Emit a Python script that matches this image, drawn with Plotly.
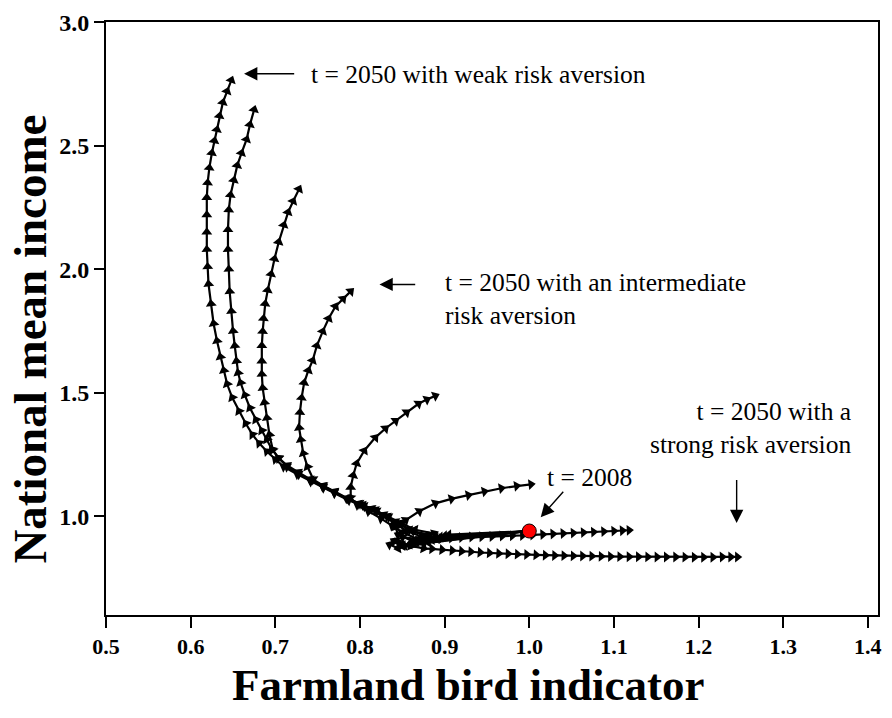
import plotly.graph_objects as go

# Trajectories of (farmland bird indicator, national mean income), 2008 -> 2050,
# one per level of risk aversion (weak -> strong).
traj1_x = [1.0, 0.905, 0.872, 0.888, 0.865, 0.85, 0.834, 0.82, 0.805, 0.787, 0.77, 0.757, 0.742,
           0.726, 0.71, 0.7, 0.69, 0.681, 0.673, 0.665, 0.657, 0.649, 0.643, 0.639, 0.635, 0.631,
           0.627, 0.624, 0.621, 0.62, 0.619, 0.619, 0.619, 0.619, 0.62, 0.622, 0.625, 0.628,
           0.631, 0.634, 0.638, 0.643, 0.648]
traj1_y = [0.94, 0.925, 0.905, 0.93, 0.945, 0.97, 0.996, 1.02, 1.04, 1.064, 1.093, 1.115, 1.14,
           1.17, 1.2, 1.23, 1.262, 1.295, 1.33, 1.375, 1.425, 1.48, 1.535, 1.59, 1.645, 1.71,
           1.78, 1.86, 1.94, 2.01, 2.08, 2.15, 2.22, 2.29, 2.35, 2.41, 2.47, 2.52, 2.565, 2.62,
           2.675, 2.72, 2.765]

traj2_x = [1.0, 0.9, 0.868, 0.882, 0.862, 0.846, 0.832, 0.818, 0.803, 0.786, 0.77, 0.756, 0.742,
           0.728, 0.714, 0.704, 0.696, 0.69, 0.684, 0.677, 0.67, 0.664, 0.659, 0.656, 0.654,
           0.652, 0.65, 0.648, 0.646, 0.645, 0.644, 0.644, 0.645, 0.647, 0.651, 0.655, 0.66,
           0.666, 0.67, 0.675]
traj2_y = [0.94, 0.92, 0.9, 0.925, 0.94, 0.972, 1.0, 1.025, 1.045, 1.07, 1.095, 1.12, 1.145,
           1.17, 1.2, 1.235, 1.27, 1.31, 1.346, 1.39, 1.438, 1.49, 1.54, 1.58, 1.628, 1.69,
           1.75, 1.83, 1.91, 2.0, 2.08, 2.16, 2.24, 2.3, 2.36, 2.42, 2.47, 2.525, 2.585, 2.646]

traj3_x = [1.0, 0.895, 0.866, 0.878, 0.858, 0.842, 0.828, 0.814, 0.8, 0.785, 0.77, 0.756, 0.741,
           0.727, 0.714, 0.704, 0.697, 0.693, 0.69, 0.687, 0.685, 0.684, 0.684, 0.684, 0.685,
           0.686, 0.688, 0.691, 0.695, 0.699, 0.704, 0.71, 0.715, 0.721, 0.728]
traj3_y = [0.94, 0.915, 0.895, 0.92, 0.945, 0.978, 1.005, 1.03, 1.05, 1.073, 1.1, 1.123, 1.15,
           1.178, 1.205, 1.235, 1.268, 1.33, 1.398, 1.46, 1.519, 1.575, 1.628, 1.69, 1.748,
           1.8, 1.86, 1.915, 1.98, 2.042, 2.11, 2.179, 2.23, 2.275, 2.324]

traj4_x = [1.0, 0.89, 0.862, 0.875, 0.855, 0.84, 0.826, 0.812, 0.798, 0.784, 0.77, 0.757, 0.745,
           0.738, 0.733, 0.73, 0.728, 0.729, 0.731, 0.734, 0.739, 0.744, 0.749, 0.756, 0.763,
           0.771, 0.78, 0.789, 0.798]
traj4_y = [0.94, 0.91, 0.89, 0.915, 0.94, 0.975, 1.002, 1.028, 1.05, 1.072, 1.098, 1.122, 1.148,
           1.2, 1.254, 1.31, 1.358, 1.42, 1.479, 1.54, 1.59, 1.63, 1.69, 1.748, 1.8, 1.849,
           1.88, 1.91]

traj5_x = [1.0, 0.885, 0.858, 0.87, 0.85, 0.838, 0.825, 0.81, 0.797, 0.789, 0.789, 0.792,
           0.796, 0.805, 0.818, 0.83, 0.842, 0.855, 0.869, 0.879, 0.889]
traj5_y = [0.94, 0.905, 0.885, 0.905, 0.935, 0.962, 0.99, 1.02, 1.045, 1.075, 1.117, 1.165,
           1.213, 1.265, 1.318, 1.355, 1.386, 1.42, 1.455, 1.472, 1.487]

traj6_x = [1.0, 0.88, 0.852, 0.862, 0.845, 0.842, 0.854, 0.87, 0.889, 0.908, 0.928, 0.947,
           0.967, 0.985, 1.002]
traj6_y = [0.94, 0.9, 0.88, 0.9, 0.925, 0.955, 0.984, 1.02, 1.052, 1.07, 1.085, 1.1, 1.113,
           1.122, 1.129]

traj7_x = [1.0, 0.88, 0.85, 0.84, 0.85, 0.872, 0.884, 0.896, 0.908, 0.92, 0.932, 0.944, 0.956,
           0.968, 0.98, 0.992, 1.004, 1.016, 1.028, 1.04, 1.052, 1.064, 1.076, 1.088, 1.1,
           1.11, 1.118]
traj7_y = [0.94, 0.895, 0.88, 0.9, 0.915, 0.905, 0.908, 0.91, 0.912, 0.914, 0.916, 0.917, 0.918,
           0.92, 0.921, 0.922, 0.924, 0.926, 0.928, 0.93, 0.932, 0.934, 0.936, 0.938, 0.94,
           0.942, 0.943]

traj8_x = [1.0, 0.875, 0.845, 0.835, 0.845, 0.86, 0.875, 0.885, 0.897, 0.909, 0.92, 0.931,
           0.942, 0.953, 0.964, 0.975, 0.986, 0.997, 1.008, 1.019, 1.03, 1.041, 1.052, 1.063,
           1.074, 1.085, 1.096, 1.107, 1.118, 1.129, 1.14, 1.151, 1.162, 1.173, 1.184, 1.195,
           1.206, 1.217, 1.228, 1.238, 1.246]
traj8_y = [0.94, 0.89, 0.87, 0.885, 0.895, 0.88, 0.87, 0.868, 0.864, 0.861, 0.858, 0.856,
           0.853, 0.851, 0.849, 0.848, 0.846, 0.845, 0.843, 0.842, 0.841, 0.84, 0.839, 0.839,
           0.838, 0.837, 0.837, 0.836, 0.836, 0.836, 0.835, 0.835, 0.835, 0.835, 0.834, 0.834,
           0.834, 0.834, 0.835, 0.835, 0.835]

trajectories = [
    (traj1_x, traj1_y), (traj2_x, traj2_y), (traj3_x, traj3_y), (traj4_x, traj4_y),
    (traj5_x, traj5_y), (traj6_x, traj6_y), (traj7_x, traj7_y), (traj8_x, traj8_y),
]

start_x = [1.0]
start_y = [0.94]

x_ticks = [0.5, 0.6, 0.7, 0.8, 0.9, 1.0, 1.1, 1.2, 1.3, 1.4]
y_ticks = [1.0, 1.5, 2.0, 2.5, 3.0]

SERIF = "Liberation Serif"

fig = go.Figure()

for tx, ty in trajectories:
    fig.add_trace(go.Scatter(
        x=tx, y=ty, mode="lines+markers",
        line=dict(color="black", width=2.2),
        marker=dict(symbol="triangle-up", angleref="previous", size=9.5, color="black",
                    line=dict(width=0)),
        showlegend=False, hoverinfo="skip",
    ))

fig.add_trace(go.Scatter(
    x=start_x, y=start_y, mode="markers",
    marker=dict(symbol="circle", size=14, color="#ff0000", line=dict(color="black", width=1)),
    showlegend=False,
))

text_font = dict(family=SERIF, size=25.5, color="black")
arrow_style = dict(axref="x", ayref="y", text="", showarrow=True, arrowhead=2,
                   arrowsize=1.9, arrowwidth=1.4, arrowcolor="black")

annotations = [
    # text labels
    dict(x=0.740, y=2.787, text="t = 2050 with weak risk aversion", xanchor="left",
         yanchor="middle", showarrow=False, font=text_font),
    dict(x=0.898, y=1.881, text="t = 2050 with an intermediate<br>risk aversion",
         xanchor="left", yanchor="middle", align="left", showarrow=False, font=text_font),
    dict(x=1.019, y=1.155, text="t = 2008", xanchor="left", yanchor="middle",
         showarrow=False, font=text_font),
    dict(x=1.382, y=1.358, text="t = 2050 with a<br>strong risk aversion", xanchor="right",
         yanchor="middle", align="right", showarrow=False, font=text_font),
    # pointer arrows
    dict(x=0.663, y=2.791, ax=0.724, ay=2.791, **arrow_style),
    dict(x=0.823, y=1.938, ax=0.867, ay=1.938, **arrow_style),
    dict(x=1.0135, y=0.996, ax=1.0417, ay=1.105, **arrow_style),
    dict(x=1.245, y=0.972, ax=1.245, ay=1.153, **arrow_style),
    # axis titles
    dict(x=0.47, xref="paper", y=-0.118, yref="paper", text="<b>Farmland bird indicator</b>",
         showarrow=False, xanchor="center", yanchor="middle",
         font=dict(family=SERIF, size=45, color="black")),
    dict(x=-0.098, xref="paper", y=0.465, yref="paper", text="<b>National mean income</b>",
         showarrow=False, textangle=-90, xanchor="center", yanchor="middle",
         font=dict(family=SERIF, size=47, color="black")),
]

fig.update_layout(
    width=892, height=718,
    margin=dict(l=106, r=10, t=19, b=103),
    paper_bgcolor="white", plot_bgcolor="white",
    annotations=annotations,
    xaxis=dict(
        range=[0.4999, 1.412], tickvals=x_ticks, tickformat=".1f",
        showgrid=False, zeroline=False,
        showline=True, linecolor="black", linewidth=2, mirror=True,
        ticks="outside", ticklen=11, tickwidth=1.5, tickcolor="black",
        tickfont=dict(family=SERIF, size=22, color="black", weight="bold"),
    ),
    yaxis=dict(
        range=[0.6, 3.0005], tickvals=y_ticks, tickformat=".1f",
        showgrid=False, zeroline=False,
        showline=True, linecolor="black", linewidth=2, mirror=True,
        ticks="outside", ticklen=10, tickwidth=1.5, tickcolor="black",
        tickfont=dict(family=SERIF, size=24, color="black", weight="bold"),
    ),
)

fig.write_html("out.html")
